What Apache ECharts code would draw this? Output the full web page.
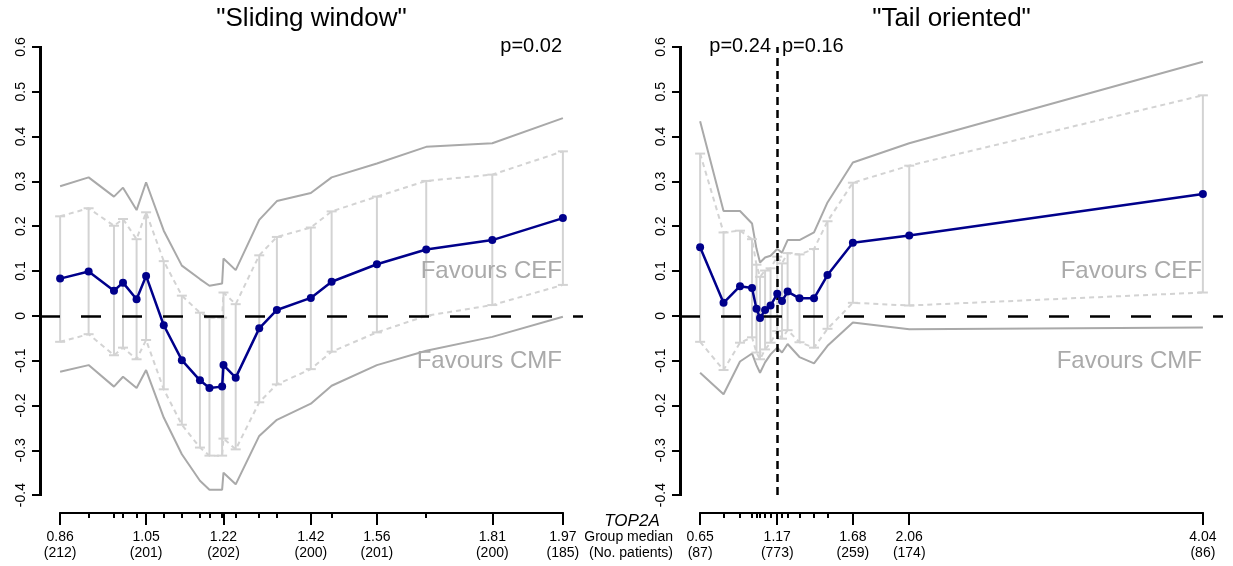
<!DOCTYPE html>
<html><head><meta charset="utf-8">
<script src="https://cdn.jsdelivr.net/npm/echarts@6/dist/echarts.min.js"></script>
<style>html,body{margin:0;padding:0;background:#fff;}#c{width:1233px;height:566px;}</style>
</head><body><div id="c"></div>
<script>
// ---------- Left panel: "Sliding window" ----------
const leftX      = [0.86, 0.923, 0.979, 0.999, 1.029, 1.05, 1.089, 1.129, 1.169, 1.19, 1.218, 1.221, 1.248, 1.30, 1.339, 1.414, 1.46, 1.56, 1.669, 1.815, 1.971];
const leftEst    = [0.083, 0.099, 0.056, 0.074, 0.037, 0.089, -0.021, -0.099, -0.144, -0.161, -0.158, -0.110, -0.138, -0.028, 0.013, 0.040, 0.076, 0.115, 0.148, 0.169, 0.218];
const leftLo     = [-0.058, -0.041, -0.088, -0.071, -0.097, -0.054, -0.164, -0.243, -0.294, -0.312, -0.312, -0.274, -0.298, -0.193, -0.153, -0.119, -0.080, -0.037, 0.000, 0.024, 0.069];
const leftHi     = [0.222, 0.240, 0.201, 0.216, 0.171, 0.231, 0.122, 0.045, 0.007, -0.004, -0.004, 0.052, 0.026, 0.135, 0.176, 0.197, 0.233, 0.266, 0.301, 0.315, 0.367];
const leftBandLo = [-0.125, -0.110, -0.158, -0.136, -0.161, -0.121, -0.227, -0.309, -0.368, -0.388, -0.388, -0.350, -0.376, -0.268, -0.232, -0.196, -0.156, -0.110, -0.078, -0.047, -0.002];
const leftBandHi = [0.289, 0.309, 0.266, 0.286, 0.236, 0.298, 0.190, 0.112, 0.082, 0.067, 0.072, 0.128, 0.102, 0.214, 0.256, 0.274, 0.309, 0.340, 0.377, 0.385, 0.441];
const leftMajorIdx   = [0, 5, 11, 15, 17, 19, 20];
const leftTickLabels = ['0.86', '1.05', '1.22', '1.42', '1.56', '1.81', '1.97'];
const leftTickN      = ['212', '201', '202', '200', '201', '200', '185'];

// ---------- Right panel: "Tail oriented" ----------
const rightX      = [0.65, 0.808, 0.919, 1.0, 1.03, 1.054, 1.088, 1.125, 1.17, 1.202, 1.24, 1.32, 1.418, 1.509, 1.68, 2.06, 4.04];
const rightEst    = [0.153, 0.029, 0.066, 0.062, 0.016, -0.005, 0.013, 0.023, 0.049, 0.033, 0.054, 0.039, 0.039, 0.091, 0.163, 0.179, 0.272];
const rightLo     = [-0.058, -0.121, -0.060, -0.048, -0.082, -0.097, -0.075, -0.060, -0.034, -0.051, -0.032, -0.059, -0.071, -0.029, 0.029, 0.023, 0.052];
const rightHi     = [0.362, 0.186, 0.190, 0.171, 0.114, 0.087, 0.101, 0.106, 0.132, 0.117, 0.140, 0.137, 0.149, 0.211, 0.297, 0.335, 0.492];
const rightBandLo = [-0.127, -0.175, -0.102, -0.084, -0.110, -0.127, -0.104, -0.086, -0.071, -0.082, -0.063, -0.092, -0.106, -0.067, -0.015, -0.030, -0.026];
const rightBandHi = [0.434, 0.234, 0.234, 0.206, 0.150, 0.119, 0.130, 0.134, 0.149, 0.141, 0.169, 0.169, 0.186, 0.253, 0.342, 0.385, 0.567];
const rightMajorIdx   = [0, 8, 14, 15, 16];
const rightTickLabels = ['0.65', '1.17', '1.68', '2.06', '4.04'];
const rightTickN      = ['87', '773', '259', '174', '86'];
const rightCutoff = 1.17;

const yTicks = [-0.4, -0.3, -0.2, -0.1, 0, 0.1, 0.2, 0.3, 0.4, 0.5, 0.6];

// ---------- styling / layout ----------
const FONT = "'Liberation Sans', Arial, Helvetica, sans-serif";
const BLUE = '#00008b', LIGHT = '#d3d3d3', DARK = '#a9a9a9', TXTGRAY = '#aaaaaa';
const Y_MIN = -0.4, Y_MAX = 0.6, PAD = 0.04;
const yLo = Y_MIN - PAD * (Y_MAX - Y_MIN), yHi = Y_MAX + PAD * (Y_MAX - Y_MIN);
const PLOT_TOP = 29, PLOT_H = 484, PLOT_W = 543;

function padRange(xs) {
  const a = xs[0], b = xs[xs.length - 1], d = (b - a) * PAD;
  return [a - d, b + d];
}

function errRender(params, api) {
  const x = api.value(0), lo = api.value(1), hi = api.value(2);
  const pLo = api.coord([x, lo]), pHi = api.coord([x, hi]);
  const w = 5;
  const style = { stroke: LIGHT, lineWidth: 2 };
  return { type: 'group', children: [
    { type: 'line', shape: { x1: pLo[0], y1: pLo[1], x2: pHi[0], y2: pHi[1] }, style },
    { type: 'line', shape: { x1: pLo[0] - w, y1: pLo[1], x2: pLo[0] + w, y2: pLo[1] }, style },
    { type: 'line', shape: { x1: pHi[0] - w, y1: pHi[1], x2: pHi[0] + w, y2: pHi[1] }, style }
  ]};
}

const grids = [], xAxes = [], yAxes = [], series = [], panels = [];

function panel(gi, left, xs, est, lo, hi, bLo, bHi, majorIdx, tickLabels, tickN) {
  const [xMin, xMax] = padRange(xs);
  const majorX = majorIdx.map(i => xs[i]);
  grids.push({ left: left, top: PLOT_TOP, width: PLOT_W, height: PLOT_H });
  xAxes.push({ gridIndex: gi, type: 'value', min: xMin, max: xMax, position: 'bottom', offset: 0,
    axisLine: { show: false, onZero: false }, splitLine: { show: false },
    axisTick: { show: true, customValues: xs, length: 5, lineStyle: { color: '#000', width: 2 } },
    axisLabel: { show: false } });
  xAxes.push({ gridIndex: gi, type: 'value', min: xMin, max: xMax, position: 'bottom', offset: 0,
    axisLine: { show: false, onZero: false }, splitLine: { show: false },
    axisTick: { show: true, customValues: majorX, length: 12, lineStyle: { color: '#000', width: 2 } },
    axisLabel: { show: true, customValues: majorX, margin: 16, fontSize: 14, lineHeight: 16,
      fontFamily: FONT, color: '#000', align: 'center',
      formatter: v => { const k = majorX.findIndex(m => Math.abs(m - v) < 1e-9); return k < 0 ? '' : tickLabels[k] + '\n(' + tickN[k] + ')'; } } });
  yAxes.push({ gridIndex: gi, type: 'value', min: yLo, max: yHi,
    axisLine: { show: false, onZero: false }, splitLine: { show: false },
    axisTick: { show: true, customValues: yTicks, length: 8, lineStyle: { color: '#000', width: 2 } },
    axisLabel: { show: true, customValues: yTicks, rotate: 90, margin: 12, fontSize: 14, fontFamily: FONT, color: '#000',
      formatter: v => (Math.abs(v) < 1e-9 ? '0' : String(Math.round(v * 10) / 10)) } });
  const xi = gi * 2, yi = gi;
  const pair = (arr) => xs.map((x, i) => [x, arr[i]]);
  const common = { xAxisIndex: xi, yAxisIndex: yi, silent: true, animation: false };
  series.push(Object.assign({ type: 'line', data: pair(bHi), showSymbol: false, symbol: 'none',
    lineStyle: { color: DARK, width: 2 }, z: 2 }, common));
  series.push(Object.assign({ type: 'line', data: pair(bLo), showSymbol: false, symbol: 'none',
    lineStyle: { color: DARK, width: 2 }, z: 2 }, common));
  series.push(Object.assign({ type: 'line', data: pair(hi), showSymbol: false, symbol: 'none',
    lineStyle: { color: LIGHT, width: 2, type: [5, 4] }, z: 2 }, common));
  series.push(Object.assign({ type: 'line', data: pair(lo), showSymbol: false, symbol: 'none',
    lineStyle: { color: LIGHT, width: 2, type: [5, 4] }, z: 2 }, common));
  series.push(Object.assign({ type: 'custom', renderItem: errRender, clip: false,
    encode: { x: 0, y: [1, 2] }, data: xs.map((x, i) => [x, lo[i], hi[i]]), z: 3 }, common));
  series.push(Object.assign({ type: 'line', data: [], z: 5,
    markLine: { silent: true, symbol: 'none', label: { show: false },
      lineStyle: { color: '#000', width: 2.5, type: [20, 21] },
      data: [{ yAxis: 0 }] } }, common));
  series.push(Object.assign({ type: 'line', data: pair(est), symbol: 'circle', symbolSize: 8, showSymbol: true,
    itemStyle: { color: BLUE }, lineStyle: { color: BLUE, width: 2.5 }, z: 10, clip: false }, common));
  panels.push({ left, xMin, xs, xi, yi });
  return { xMin, xMax, xi, yi };
}

panel(0, 40, leftX, leftEst, leftLo, leftHi, leftBandLo, leftBandHi, leftMajorIdx, leftTickLabels, leftTickN);
const rp = panel(1, 680, rightX, rightEst, rightLo, rightHi, rightBandLo, rightBandHi, rightMajorIdx, rightTickLabels, rightTickN);

// vertical cutoff line in right panel
series.push({ type: 'line', xAxisIndex: rp.xi, yAxisIndex: rp.yi, data: [], silent: true, animation: false, z: 6,
  markLine: { silent: true, symbol: 'none', label: { show: false },
    lineStyle: { color: '#000', width: 2.5, type: [8, 5] },
    data: [[{ coord: [rightCutoff, Y_MIN] }, { coord: [rightCutoff, Y_MAX] }]] } });

function txt(x, y, text, size, align, color, extra) {
  return Object.assign({ type: 'text', x: x, y: y, silent: true, z: 100,
    style: Object.assign({ text: text, fill: color || '#000', font: size + 'px ' + FONT,
      textAlign: align, align: align, textVerticalAlign: 'middle', verticalAlign: 'middle' }, extra || {}) });
}

const graphics = [
  txt(311.5, 19, '"Sliding window"', 26, 'center'),
  txt(951.5, 19, '"Tail oriented"', 26, 'center'),
  txt(562, 46, 'p=0.02', 20, 'right'),
  txt(771, 46, 'p=0.24', 20, 'right'),
  txt(782, 46, 'p=0.16', 20, 'left'),
  txt(562, 271, 'Favours CEF', 24, 'right', TXTGRAY),
  txt(562, 361, 'Favours CMF', 24, 'right', TXTGRAY),
  txt(1202, 271, 'Favours CEF', 24, 'right', TXTGRAY),
  txt(1202, 361, 'Favours CMF', 24, 'right', TXTGRAY),
  { type: 'text', x: 632, y: 521, silent: true, z: 100,
    style: { text: 'TOP2A', fill: '#000', font: 'italic 17px ' + FONT, textAlign: 'center', align: 'center', textVerticalAlign: 'middle', verticalAlign: 'middle' } },
  txt(673, 537, 'Group median', 14, 'right'),
  txt(673, 553, '(No. patients)', 14, 'right')
];

const chart = echarts.init(document.getElementById('c'), null, { renderer: 'canvas' });
chart.setOption({
  animation: false,
  backgroundColor: '#fff',
  textStyle: { fontFamily: FONT },
  grid: grids, xAxis: xAxes, yAxis: yAxes, series: series,
  graphic: graphics
});

// R-style axis lines: y axis spans -0.4..0.6, x axis spans first..last group median
const axisLines = [];
panels.forEach(p => {
  const finder = { xAxisIndex: p.xi, yAxisIndex: p.yi };
  const a = chart.convertToPixel(finder, [p.xMin, Y_MIN]);
  const b = chart.convertToPixel(finder, [p.xMin, Y_MAX]);
  const c = chart.convertToPixel(finder, [p.xs[0], yLo]);
  const d = chart.convertToPixel(finder, [p.xs[p.xs.length - 1], yLo]);
  axisLines.push({ type: 'rect', silent: true, zlevel: 1, z: 300,
    shape: { x: Math.round(a[0]) - 1, y: Math.round(b[1]) - 1, width: 3, height: Math.round(a[1] - b[1]) + 2 }, style: { fill: '#000' } });
  axisLines.push({ type: 'rect', silent: true, z: 200,
    shape: { x: c[0] - 1, y: c[1] - 1, width: d[0] - c[0] + 2, height: 2 }, style: { fill: '#000' } });
});
chart.setOption({ graphic: graphics.concat(axisLines) });
</script></body></html>
